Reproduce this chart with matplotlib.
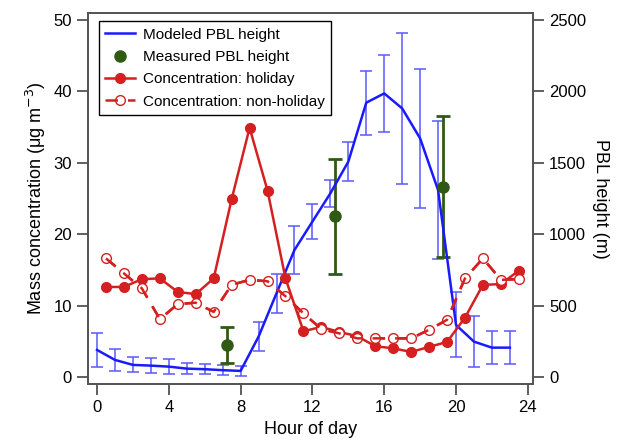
import matplotlib
matplotlib.use("Agg")
import matplotlib.pyplot as plt
from matplotlib.lines import Line2D

plt.rcParams["font.family"] = ["Liberation Sans", "DejaVu Sans"]

# modeled PBL height (m), hourly
pbl_hours = list(range(24))
pbl_model = [189, 119, 84, 79, 72, 58, 54, 47, 42, 282, 586, 889, 1088, 1286,
             1508, 1921, 1986, 1881, 1671, 1309, 364, 247, 205, 205]
pbl_model_err = [119, 77, 52, 50, 50, 40, 35, 35, 35, 100, 135, 165, 123, 93,
                 135, 225, 270, 528, 488, 485, 228, 181, 117, 117]

# measured PBL height (m)
meas_hours = [7.25, 13.25, 19.25]
meas_pbl = [224, 1127, 1333]
meas_err = [128, 403, 493]

# mass concentration (ug m-3), half-hour centres
conc_hours = [h + 0.5 for h in range(24)]
conc_holiday = [12.6, 12.6, 13.7, 13.8, 11.9, 11.6, 13.8, 24.9, 34.9, 26.1,
                13.8, 6.4, 7.0, 6.3, 5.7, 4.3, 4.0, 3.5, 4.2, 4.9,
                8.3, 12.9, 13.0, 14.9]
conc_nonholiday = [16.6, 14.5, 12.4, 8.1, 10.2, 10.4, 9.1, 12.9, 13.6, 13.4,
                   11.3, 8.9, 6.7, 6.1, 5.4, 5.4, 5.4, 5.4, 6.6, 8.0,
                   13.8, 16.6, 13.6, 13.7]

red = "#d42020"
blue = "#1a1aff"
blue_err = "#5a5aff"
green = "#2f5a14"

fig = plt.figure(figsize=(6.2, 4.45), dpi=100)
ax = fig.add_axes([0.142, 0.137, 0.718, 0.834])
ax2 = ax.twinx()
ax.set_zorder(ax2.get_zorder() + 1)
ax.patch.set_visible(False)

ax2.errorbar(pbl_hours, pbl_model, yerr=pbl_model_err, color=blue, lw=1.8,
             ecolor=blue_err, elinewidth=1.1, capsize=4, capthick=1.1)
ax2.errorbar(meas_hours, meas_pbl, yerr=meas_err, fmt="o", color=green,
             ms=8, elinewidth=2, capsize=5, capthick=2)

ax.plot(conc_hours, conc_holiday, "-o", color=red, lw=1.8, ms=7)
ax.plot(conc_hours, conc_nonholiday, "o", color=red, mfc="white", ms=7,
        mew=1.0, ls=(0, (5, 4)), lw=1.8)
# redraw dashed line over open markers
ax.plot(conc_hours, conc_nonholiday, color=red, ls=(0, (5, 4)), lw=1.8)

ax.set_xlim(-0.5, 24.3)
ax.set_ylim(-1, 51)
ax2.set_ylim(-50, 2550)
ax.set_xticks([0, 4, 8, 12, 16, 20, 24])
ax.set_yticks([0, 10, 20, 30, 40, 50])
ax2.set_yticks([0, 500, 1000, 1500, 2000, 2500])

for a in (ax, ax2):
    a.tick_params(direction="out", length=8, width=1.2, labelsize=12,
                  color="#444444")
    for s in a.spines.values():
        s.set_color("#555555")
        s.set_linewidth(1.3)

ax.set_xlabel("Hour of day", fontsize=13)
ax.set_ylabel("Mass concentration (μg m$^{-3}$)", fontsize=13)
ax2.set_ylabel("PBL height (m)", fontsize=13, rotation=270, labelpad=16)

handles = [
    Line2D([], [], color=blue, lw=1.8),
    Line2D([], [], color=green, marker="o", ls="none", ms=8),
    Line2D([], [], color=red, marker="o", lw=1.8, ms=7),
    Line2D([], [], color=red, marker="o", mfc="none", ms=7, ls=(0, (5, 4)), lw=1.8),
]
labels = ["Modeled PBL height", "Measured PBL height",
          "Concentration: holiday", "Concentration: non-holiday"]
leg = ax.legend(handles, labels, loc="upper left",
                bbox_to_anchor=(0.024, 0.977), fontsize=11, fancybox=False,
                framealpha=1, edgecolor="black", borderaxespad=0,
                handlelength=2.0, handletextpad=0.5, labelspacing=0.55,
                borderpad=0.4)
leg.get_frame().set_linewidth(1.0)

fig.savefig("out.png", dpi=100)
